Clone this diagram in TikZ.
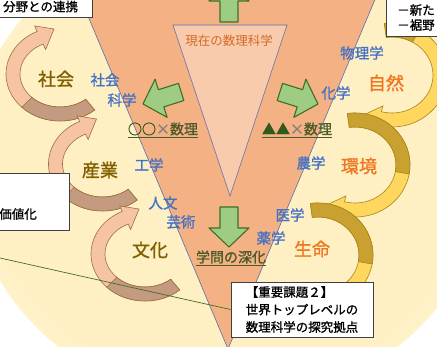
\documentclass[tikz,border=0pt]{standalone}
\usepackage{fontspec}
\newfontfamily\jp{Noto Sans CJK JP}[AutoFakeBold=1.2]

\definecolor{salmon}{HTML}{F4B183}
\definecolor{paleorange}{HTML}{F8CBAD}
\definecolor{edgeblue}{HTML}{5B6DAE}
\definecolor{cream}{HTML}{FFF0C4}
\definecolor{discblue}{HTML}{4472C4}
\definecolor{fieldolive}{HTML}{7F6000}
\definecolor{fieldorange}{HTML}{EE7722}
\definecolor{nowtext}{HTML}{D46A26}
\definecolor{leafgreen}{HTML}{9DCC82}
\definecolor{leafedge}{HTML}{3F6F25}
\definecolor{mathgreen}{HTML}{2F5A1A}
\definecolor{mathtext}{HTML}{4B5A28}
\definecolor{peach}{HTML}{F6C4A2}
\definecolor{tanbrown}{HTML}{C49A80}
\definecolor{tanedge}{HTML}{9A7040}
\definecolor{sunyellow}{HTML}{FFD75E}
\definecolor{gold}{HTML}{C9A131}
\definecolor{goldedge}{HTML}{A8861A}
\definecolor{boxgrey}{HTML}{404040}

\pgfdeclareradialshading{glow}{\pgfpoint{0bp}{0bp}}{color(0bp)=(cream); color(23bp)=(cream); color(50bp)=(white)}

\newcommand{\bandw}{7}
\newcommand{\headw}{13}
% curved block arrow: centre x, centre y, x radius, y radius, start, end, tip x, tip y, style
\newcommand{\curvarrow}[9]{%
  \filldraw[#9] ({#1+(#3+\bandw)*cos(#5)},{#2+(#4+\bandw)*sin(#5)})
    arc[start angle=#5, end angle=#6, x radius={#3+\bandw}, y radius={#4+\bandw}]
    -- ({#1+(#3+\headw)*cos(#6)},{#2+(#4+\headw)*sin(#6)})
    -- (#7,#8)
    -- ({#1+(#3-\headw)*cos(#6)},{#2+(#4-\headw)*sin(#6)})
    -- ({#1+(#3-\bandw)*cos(#6)},{#2+(#4-\bandw)*sin(#6)})
    arc[start angle=#6, end angle=#5, x radius={#3-\bandw}, y radius={#4-\bandw}]
    -- cycle;}
% darker part of the band near the tail
\newcommand{\curvband}[7]{%
  \filldraw[#7] ({#1+(#3+\bandw)*cos(#5)},{#2+(#4+\bandw)*sin(#5)})
    arc[start angle=#5, end angle=#6, x radius={#3+\bandw}, y radius={#4+\bandw}]
    -- ({#1+(#3-\bandw)*cos(#6)},{#2+(#4-\bandw)*sin(#6)})
    arc[start angle=#6, end angle=#5, x radius={#3-\bandw}, y radius={#4-\bandw}]
    -- cycle;}

\begin{document}
\begin{tikzpicture}[x=1pt, y=-1pt,
    every node/.style={inner sep=1pt},
    field/.style={font=\jp\bfseries\fontsize{18}{20}\selectfont},
    discipline/.style={text=discblue, font=\jp\bfseries\fontsize{14.5}{16}\selectfont},
    mathlabel/.style={text=mathtext, font=\jp\bfseries\fontsize{14}{16}\selectfont},
    infobox/.style={draw=boxgrey, fill=white, line width=0.9pt, font=\jp\bfseries\fontsize{12.5}{17.5}\selectfont},
    boxtext/.style={font=\jp\bfseries\fontsize{12.5}{15}\selectfont},
    triangle edge/.style={draw=edgeblue, line width=0.6pt},
    loop left/.style={fill=peach, draw=tanedge, line width=0.6pt},
    loop left dark/.style={fill=tanbrown, draw=tanedge, line width=0.6pt},
    loop right/.style={fill=sunyellow, draw=goldedge, line width=0.6pt},
    loop right dark/.style={fill=gold, draw=goldedge, line width=0.6pt},
    leader line/.style={draw=leafedge, line width=0.7pt},
    greenarrow/.pic={\filldraw[fill=leafgreen, draw=leafedge, line width=1.1pt, line join=round]
      (0,0) -- (-19,-20) -- (-19,-9) -- (-40,-9) -- (-40,9) -- (-19,9) -- (-19,20) -- cycle;},
    ]
\useasboundingbox (0,0) rectangle (437,347);
\clip (0,0) rectangle (437,347);
\fill[white] (0,0) rectangle (437,347);
\shade[shading=glow] (228,165) ellipse [x radius=260, y radius=240];

% triangles
\filldraw[fill=salmon, triangle edge] (77,-10) -- (379,-10) -- (228,349) -- cycle;
\filldraw[fill=paleorange, triangle edge] (173,25) -- (287,25) -- (230,196) -- cycle;

% curved arrows, left side
\curvarrow{60}{74}{47}{40}{50}{245}{54}{29}{loop left}
\curvband{60}{74}{47}{40}{50}{135}{loop left dark}
\curvarrow{102.5}{164}{47}{40}{50}{245}{96.5}{119}{loop left}
\curvband{102.5}{164}{47}{40}{50}{135}{loop left dark}
\curvarrow{145}{254}{47}{40}{50}{245}{139}{209}{loop left}
\curvband{145}{254}{47}{40}{50}{135}{loop left dark}

% curved arrows, right side
\curvarrow{392}{75}{48}{45}{262}{465}{357}{118}{loop right}
\curvband{392}{75}{48}{45}{262}{300}{loop right dark}
\curvarrow{355}{165}{48}{45}{262}{465}{320}{208}{loop right}
\curvband{355}{165}{48}{45}{262}{370}{loop right dark}
\curvarrow{318}{255}{48}{45}{262}{465}{283}{298}{loop right}
\curvband{318}{255}{48}{45}{262}{370}{loop right dark}

% green arrows
\pic[rotate=90] at (229,-18) {greenarrow};
\pic[rotate=197.5] at (143,104) {greenarrow};
\pic[rotate=-17.5] at (318,104) {greenarrow};
\pic[rotate=-90] at (229,247) {greenarrow};

\node[text=nowtext, font=\jp\fontsize{12.5}{14}\selectfont] (current) at (229,41) {現在の数理科学};

% fields
\node[field, text=fieldolive] (society) at (56,79) {社会};
\node[field, text=fieldolive] (industry) at (100,170) {産業};
\node[field, text=fieldolive] (culture) at (150,250) {文化};
\node[field, text=fieldorange] (nature) at (386,83) {自然};
\node[field, text=fieldorange] (environment) at (359,166) {環境};
\node[field, text=fieldorange] (life) at (312,249) {生命};

% disciplines
\node[discipline] (social) at (105,80) {社会};
\node[discipline] (science) at (122,100) {科学};
\node[discipline] (engineering) at (149,165) {工学};
\node[discipline] (humanities) at (163,203) {人文};
\node[discipline] (arts) at (181,222) {芸術};
\node[discipline] (physics) at (362,53) {物理学};
\node[discipline] (chemistry) at (336,93) {化学};
\node[discipline] (agriculture) at (311,163) {農学};
\node[discipline] (medicine) at (290,215) {医学};
\node[discipline] (pharmacy) at (271,238) {薬学};

\node[mathlabel] (circmath) at (163,130) {\underline{\textcolor{mathgreen}{○○}\textcolor{gray}{×}数理}};
\node[mathlabel] (trimath) at (297,130) {\underline{\textcolor{mathgreen}{▲▲}\textcolor{gray}{×}数理}};
\node[mathlabel] (deepen) at (231,258) {\underline{学問の深化}};

% boxes
\node[infobox, minimum width=104, minimum height=22, anchor=south east] (linkbox) at (93,18) {分野との連携};
\node[infobox, minimum width=80, minimum height=57, anchor=north east] (valuebox) at (70,173) {};
\node[boxtext, anchor=east] (valuetext) at (38,214) {価値化};
\node[infobox, minimum width=70, minimum height=50, anchor=south west] (newbox) at (386,37) {};
\node[boxtext, anchor=west, align=left] (newtext) at (396,17.5) {－新た\\－裾野};
\coordinate (leadstart) at (0,258);
\node[infobox, minimum width=142, minimum height=55, align=left] (task2) at (302,309.5) {【重要課題２】\\世界トップレベルの\\数理科学の探究拠点};
\draw[leader line] (leadstart) -- (task2.west);
\end{tikzpicture}
\end{document}
